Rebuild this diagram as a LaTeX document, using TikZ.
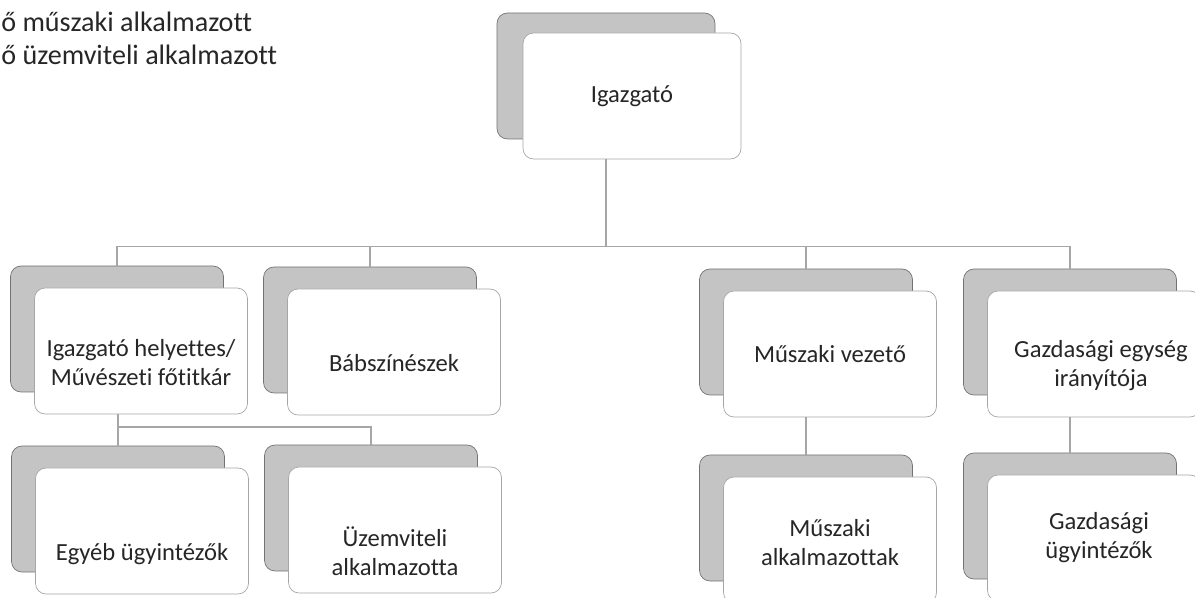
\documentclass[tikz,border=0pt]{standalone}
\usepackage{fontspec}
\setmainfont{Carlito}[Ligatures=NoCommon]
\usetikzlibrary{positioning}
\definecolor{boxgray}{HTML}{C4C4C4}
\definecolor{edgegray}{HTML}{737373}
\definecolor{linegray}{HTML}{A6A6A6}
\definecolor{textgray}{HTML}{262626}

\begin{document}
\begin{tikzpicture}[
    font=\fontsize{14}{16.5}\selectfont,
    back/.style={draw=edgegray, fill=boxgray, rounded corners=6pt,
      minimum width=4.26cm, minimum height=2.52cm, inner sep=0pt},
    front/.style={back, draw=linegray, fill=white},
    caption/.style={align=center, text=textgray},
    note/.style={anchor=base west, inner sep=0pt, text=textgray,
      font=\fontsize{16}{19}\selectfont},
    conn/.style={draw=linegray, line width=0.7pt}
  ]
    \useasboundingbox (0,0) rectangle (23.9,-11.96);

    % headcount lines
    \node[note] (muszakiszam) at (0.02,-0.64) {ő műszaki alkalmazott};
    \node[note] (uzemszam) at (0.02,-1.30) {ő üzemviteli alkalmazott};

    % back boxes
    \node[back, minimum width=4.36cm] (igazgato-b) at (12.12,-1.52) {};
    \node[back] (helyettes-b) at (2.34,-6.58) {};
    \node[back] (babszineszek-b) at (7.40,-6.60) {};
    \node[back] (muszaki-b) at (16.12,-6.64) {};
    \node[back] (gazdasagi-b) at (21.40,-6.64) {};
    \node[back] (egyeb-b) at (2.36,-10.18) {};
    \node[back] (uzemviteli-b) at (7.42,-10.16) {};
    \node[back] (muszalk-b) at (16.12,-10.36) {};
    \node[back] (gazdugy-b) at (21.40,-10.32) {};

    % front boxes
    \node[front, minimum width=4.36cm] (igazgato) at ([shift={(0.52,-0.40)}]igazgato-b) {};
    \foreach \n in {helyettes,babszineszek,muszaki,gazdasagi,egyeb,uzemviteli,muszalk,gazdugy}
      \node[front] (\n) at ([shift={(0.48,-0.44)}]\n-b) {};

    % captions
    \node[caption] (igazgato-t) at (igazgato) {Igazgató};
    \node[caption] (helyettes-t) at ([yshift=-0.24cm]helyettes) {Igazgató helyettes/\\Művészeti főtitkár};
    \node[caption] (babszineszek-t) at ([yshift=-0.22cm]babszineszek) {Bábszínészek};
    \node[caption] (muszaki-t) at (muszaki) {Műszaki vezető};
    \node[caption] (gazdasagi-t) at ([shift={(0.14,-0.24)}]gazdasagi) {Gazdasági egység\\irányítója};
    \node[caption] (egyeb-t) at ([yshift=-0.46cm]egyeb) {Egyéb ügyintézők};
    \node[caption] (uzemviteli-t) at ([yshift=-0.42cm]uzemviteli) {Üzemviteli\\alkalmazotta};
    \node[caption] (muszalk-t) at ([yshift=-0.06cm]muszalk) {Műszaki\\alkalmazottak};
    \node[caption] (gazdugy-t) at ([xshift=0.1cm]gazdugy) {Gazdasági\\ügyintézők};

    % tree lines
    \coordinate (bus) at (0,-4.93);
    \coordinate (bus2) at (0,-8.54);
    \draw[conn] (igazgato.south -| igazgato-b) -- (igazgato-b |- bus);
    \draw[conn] (helyettes-b |- bus) -- (gazdasagi-b |- bus);
    \foreach \n in {helyettes,babszineszek,muszaki,gazdasagi}
      \draw[conn] (\n-b |- bus) -- (\n-b.north);
    \draw[conn] (egyeb-b |- helyettes.south) -- (egyeb-b.north);
    \draw[conn] (egyeb-b |- bus2) -| (uzemviteli-b.north);
    \draw[conn] (muszalk-b |- muszaki.south) -- (muszalk-b.north);
    \draw[conn] (gazdugy-b |- gazdasagi.south) -- (gazdugy-b.north);
\end{tikzpicture}
\end{document}
